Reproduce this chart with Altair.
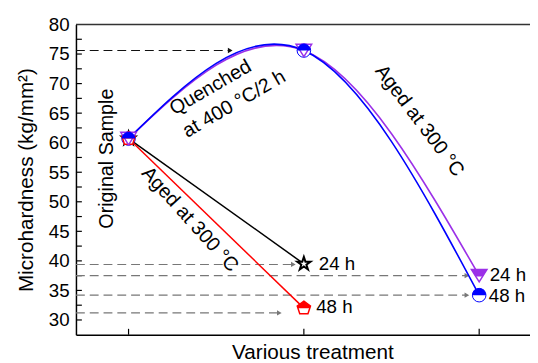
import altair as alt
import pandas as pd

FONT = "Liberation Sans"

# ---- data ----
stages = [1, 2, 3]
original = 60.7
quenched = 75.6
blue_y = [original, quenched, 34.2]      # quenched then aged 48 h
purple_y = [original, quenched, 37.5]    # quenched then aged 24 h
black_x = [1, 2]
black_y = [original, 39.5]               # aged 24 h
red_x = [1, 2]
red_y = [original, 32.0]                 # aged 48 h

guide_y = [75.6, 39.4, 37.5, 34.2, 31.2]
guide_end = [1.58, 1.94, 2.93, 2.93, 1.86]
guide_col = ["#111111", "#777777", "#777777", "#777777", "#777777"]

y_ticks = [30, 32.5, 35, 37.5, 40, 42.5, 45, 47.5, 50, 52.5, 55, 57.5, 60,
           62.5, 65, 67.5, 70, 72.5, 75, 77.5]
y_labels = [30, 35, 40, 45, 50, 55, 60, 65, 70, 75, 80]

ann_text = ["Original Sample", "Quenched", "at 400 °C/2 h", "Aged at 300 °C", "Aged at 300 °C"]
ann_x = [0.876, 1.26, 1.335, 2.66, 1.35]
ann_y = [57.3, 64.6, 60.8, 63.7, 47.0]
ann_angle = [270, 330, 330, 53, 48]
ann_align = ["center", "left", "left", "center", "center"]

lab_text = ["24 h", "48 h", "24 h", "48 h"]
lab_x = [2.085, 2.07, 3.06, 3.055]
lab_y = [39.5, 32.1, 37.6, 34.0]

W, H = 461, 315
xs = alt.Scale(domain=[0.7, 0.7 + W / 178], nice=False, zero=False)
ys = alt.Scale(domain=[27.5, 80], nice=False, zero=False)
xa = alt.Axis(labels=False, ticks=False, grid=False, domainColor="black", domainWidth=1.5,
              title="Various treatment", titleFont=FONT, titleFontSize=21,
              titleFontWeight="normal", titleColor="black", titleX=240, titleY=7,
              titleBaseline="top", titleAlign="center")
ya = alt.Axis(values=y_labels, ticks=False, grid=False, domainColor="black", domainWidth=1.5,
              labelFont=FONT, labelFontSize=19, labelColor="black", labelPadding=7,
              title="Microhardness (kg/mm²)", titleFont=FONT, titleFontSize=21,
              titleFontWeight="normal", titleColor="black", titlePadding=12)


def X(f="x"):
    return alt.X(f"{f}:Q", scale=xs, axis=xa)


def Y(f="y"):
    return alt.Y(f"{f}:Q", scale=ys, axis=ya)


layers = []

# inward ticks
ytick_df = pd.DataFrame({"y": y_ticks})
layers.append(alt.Chart(ytick_df).mark_rule(color="black", strokeWidth=1.2).encode(
    y=Y(), x=alt.value(0), x2=alt.value(6)))
xtick_df = pd.DataFrame({"x": stages})
layers.append(alt.Chart(xtick_df).mark_rule(color="black", strokeWidth=1.2).encode(
    x=X(), y=alt.value(H), y2=alt.value(H - 6)))
# top frame
layers.append(alt.Chart(pd.DataFrame({"a": [0]})).mark_rule(color="#333333", strokeWidth=1.5).encode(
    y=alt.value(0), x=alt.value(0), x2=alt.value(W)))

# dashed guides
g_df = pd.DataFrame({"y": guide_y, "x0": [0.7] * len(guide_y), "x": guide_end, "c": guide_col})
layers.append(alt.Chart(g_df).mark_rule(strokeDash=[9, 5], strokeWidth=1.1).encode(
    x=alt.X("x0:Q", scale=xs, axis=xa), x2="x:Q", y=Y(), color=alt.Color("c:N", scale=None)))
layers.append(alt.Chart(g_df).mark_point(shape="triangle-right", filled=True, size=30, opacity=1).encode(
    x=X(), y=Y(), color=alt.Color("c:N", scale=None)))

# lines
red_df = pd.DataFrame({"x": red_x, "y": red_y})
black_df = pd.DataFrame({"x": black_x, "y": black_y})
purple_df = pd.DataFrame({"x": stages, "y": purple_y})
blue_df = pd.DataFrame({"x": stages, "y": blue_y})
layers.append(alt.Chart(black_df).mark_line(color="black", strokeWidth=1.5).encode(x=X(), y=Y()))
layers.append(alt.Chart(red_df).mark_line(color="#ff0000", strokeWidth=1.5).encode(x=X(), y=Y()))
layers.append(alt.Chart(purple_df).mark_line(color="#9b30e8", strokeWidth=1.6, interpolate="natural").encode(x=X(), y=Y()))
layers.append(alt.Chart(blue_df).mark_line(color="#0000ff", strokeWidth=1.6, interpolate="natural").encode(x=X(), y=Y()))

# annotations
ann_df = pd.DataFrame({"x": ann_x, "y": ann_y, "t": ann_text, "a": ann_angle})
ann_c = ann_df[[a == "center" for a in ann_align]].reset_index(drop=True)
ann_l = ann_df[[a == "left" for a in ann_align]].reset_index(drop=True)
layers.append(alt.Chart(ann_c).mark_text(font=FONT, fontSize=20, color="black", align="center",
                                         baseline="middle").encode(
    x=X(), y=Y(), text="t:N", angle=alt.Angle("a:Q", scale=None)))
layers.append(alt.Chart(ann_l).mark_text(font=FONT, fontSize=20, color="black", align="left",
                                         baseline="alphabetic").encode(
    x=X(), y=Y(), text="t:N", angle=alt.Angle("a:Q", scale=None)))
lab_df = pd.DataFrame({"x": lab_x, "y": lab_y, "t": lab_text})
layers.append(alt.Chart(lab_df).mark_text(font=FONT, fontSize=19, color="black", align="left",
                                          baseline="middle").encode(x=X(), y=Y(), text="t:N"))

# markers (custom symbol paths)
STAR = ("M0,-1L0.225,-0.309L0.951,-0.309L0.363,0.118L0.588,0.809L0,0.382"
        "L-0.588,0.809L-0.363,0.118L-0.951,-0.309L-0.225,-0.309Z")
PENT = "M0,-1L0.951,-0.309L0.588,0.809L-0.588,0.809L-0.951,-0.309Z"
PENT_TOP = "M0,-1L0.951,-0.309L0.851,0L-0.851,0L-0.951,-0.309Z"
TRI = "M-1,-0.8L1,-0.8L0,0.8Z"
TRI_TOP = "M-1,-0.8L1,-0.8L0.44,0.1L-0.44,0.1Z"
SEMI = ("M-1,0L-0.966,-0.259L-0.866,-0.5L-0.707,-0.707L-0.5,-0.866L-0.259,-0.966L0,-1"
        "L0.259,-0.966L0.5,-0.866L0.707,-0.707L0.866,-0.5L0.966,-0.259L1,0Z")

star_df = pd.DataFrame({"x": black_x, "y": black_y})
layers.append(alt.Chart(star_df).mark_point(shape=STAR, filled=True, color="white", stroke="black",
                                            strokeWidth=2, size=200, opacity=1).encode(x=X(), y=Y()))
circ_df = pd.DataFrame({"x": stages, "y": blue_y})
layers.append(alt.Chart(circ_df).mark_point(shape="circle", filled=True, color="white", stroke="#0000ff",
                                            strokeWidth=1, size=190, opacity=1).encode(x=X(), y=Y()))
pent_df = pd.DataFrame({"x": red_x, "y": red_y})
layers.append(alt.Chart(pent_df).mark_point(shape=PENT, filled=True, color="white", stroke="#ff0000",
                                            strokeWidth=1.5, size=200, opacity=1).encode(x=X(), y=Y()))
tri_df = pd.DataFrame({"x": stages, "y": purple_y})
layers.append(alt.Chart(tri_df).mark_point(shape=TRI, filled=True, color="white", stroke="#9b30e8",
                                           strokeWidth=1.5, size=250, opacity=1).encode(x=X(), y=Y()))
layers.append(alt.Chart(pent_df).mark_point(shape=PENT_TOP, filled=True, color="#ff0000",
                                            size=200, opacity=1).encode(x=X(), y=Y()))
tri_end = pd.DataFrame({"x": [3], "y": [purple_y[2]]})
layers.append(alt.Chart(tri_end).mark_point(shape=TRI_TOP, filled=True, color="#9b30e8",
                                            size=250, opacity=1).encode(x=X(), y=Y()))
layers.append(alt.Chart(circ_df).mark_point(shape=SEMI, filled=True, color="#0000ff",
                                            size=190, opacity=1).encode(x=X(), y=Y()))

chart = alt.layer(*layers).properties(
    width=W, height=H,
    autosize=alt.AutoSizeParams(type="none"),
    padding={"left": 69, "top": 14, "right": 0, "bottom": 30},
).configure_view(stroke=None)

chart.save("out.html", embed_options={"renderer": "svg", "actions": False})
